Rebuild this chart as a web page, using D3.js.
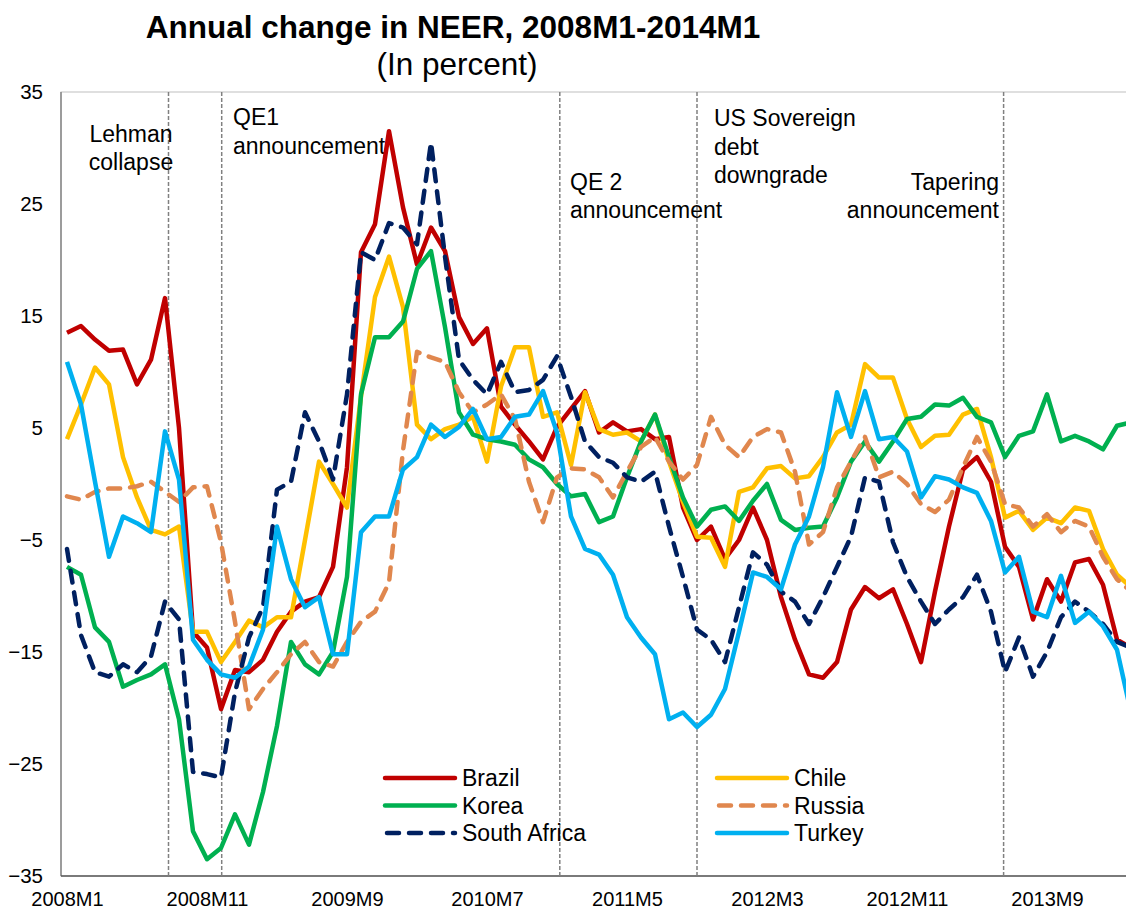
<!DOCTYPE html>
<html>
<head>
<meta charset="utf-8">
<script src="https://cdn.jsdelivr.net/npm/d3@7"></script>
<style>
  body { margin: 0; background: #fff; }
  svg { display: block; font-family: "Liberation Sans", Arial, sans-serif; }
</style>
</head>
<body>
<svg id="chart" width="1126" height="912"></svg>
<script>
// category ticks: every 10th month index, labels as printed on the chart
const tickIndex = [0, 10, 20, 30, 40, 50, 60, 70];
const tickLabels = ["2008M1", "2008M11", "2009M9", "2010M7", "2011M5", "2012M3", "2012M11", "2013M9"];
const yTicks = [-35, -25, -15, -5, 5, 15, 25, 35];

// annual change in NEER, percent, one value per month
const brazil = [13.5, 14.1, 12.9, 11.9, 12.0, 8.9, 11.1, 16.6, 5.0, -13.2,
  -14.6, -20.1, -16.6, -16.8, -15.7, -13.2, -11.4, -10.5, -10.1, -7.4,
  1.5, 20.7, 23.2, 31.5, 24.7, 19.6, 22.9, 20.8, 14.9, 12.5,
  13.9, 6.9, 5.3, 3.8, 2.2, 5.1, 6.7, 8.3, 4.6, 5.5,
  4.7, 4.9, 4.0, 4.2, -2.1, -5.0, -3.8, -6.7, -5.0, -2.1,
  -5.0, -10.1, -13.9, -17.0, -17.3, -15.9, -11.2, -9.2, -10.2, -9.4,
  -12.5, -15.9, -9.6, -3.8, 1.3, 2.4, 0.2, -5.6, -7.4, -12.1,
  -8.5, -10.5, -7.0, -6.7, -9.0, -13.9, -14.6];
const chile = [4.0, 7.1, 10.4, 8.9, 2.4, -1.2, -4.1, -4.5, -3.8, -13.2,
  -13.2, -15.9, -14.1, -12.2, -12.8, -11.9, -11.9, -5.0, 2.0, 0.0,
  -2.1, 7.8, 16.7, 20.3, 15.8, 5.3, 4.0, 4.9, 5.3, 6.0,
  2.0, 8.7, 12.2, 12.2, 6.0, 6.4, 1.7, 8.2, 4.9, 4.4,
  4.6, 3.8, 6.2, 2.0, -1.6, -4.7, -4.8, -7.4, -0.7, -0.3,
  1.4, 1.6, 0.5, 0.7, 2.4, 4.6, 5.3, 10.7, 9.5, 9.5,
  5.8, 3.3, 4.3, 4.4, 6.2, 6.7, 2.4, -3.0, -2.4, -4.1,
  -3.0, -3.5, -2.1, -2.4, -5.8, -8.1, -9.2];
const korea = [-7.4, -8.1, -12.8, -14.1, -18.1, -17.5, -17.0, -16.1, -21.0, -31.0,
  -33.5, -32.5, -29.5, -32.2, -27.5, -21.6, -14.1, -16.1, -17.0, -15.0,
  -8.3, 8.0, 13.1, 13.1, 14.5, 19.2, 20.8, 14.0, 6.4, 4.4,
  4.0, 3.8, 3.5, 2.2, 1.5, 0.0, -1.1, -0.9, -3.4, -2.9,
  0.6, 3.8, 6.2, 2.4, -1.2, -3.8, -2.3, -2.0, -3.3, -1.5,
  0.0, -3.2, -4.1, -3.9, -3.8, -1.2, 2.0, 3.8, 2.0, 3.8,
  5.8, 6.0, 7.1, 7.0, 7.7, 6.0, 5.5, 2.4, 4.3, 4.7,
  8.0, 3.8, 4.3, 3.8, 3.1, 5.2, 5.5];
const russia = [-1.1, -1.4, -0.7, -0.4, -0.4, -0.2, 0.2, -0.7, -1.6, -0.3,
  -0.2, -5.2, -12.3, -20.1, -18.3, -16.8, -15.2, -14.1, -15.9, -16.3,
  -14.1, -12.3, -11.4, -8.8, 3.0, 11.8, 11.3, 10.9, 8.2, 6.4,
  7.1, 8.0, 5.8, 0.2, -3.4, 0.6, 1.4, 1.3, 0.6, -1.2,
  1.1, 3.3, 4.2, 2.0, 0.4, 1.7, 6.0, 3.5, 2.4, 4.2,
  4.9, 4.6, 1.1, -5.4, -4.3, -0.3, 2.0, 4.2, 0.6, 1.1,
  0.0, -1.8, -2.5, -1.4, 1.5, 4.2, 2.0, -1.8, -2.1, -3.8,
  -2.7, -4.3, -3.3, -3.8, -6.5, -8.5, -9.6];
const southAfrica = [-5.8, -13.5, -16.8, -17.2, -16.1, -16.8, -15.4, -10.5, -12.1, -25.7,
  -25.9, -26.2, -18.6, -13.7, -11.0, -0.5, 0.2, 6.4, 3.8, 0.4,
  8.0, 20.7, 20.0, 23.3, 22.9, 21.4, 30.5, 20.3, 11.1, 9.3,
  8.0, 10.9, 8.2, 8.4, 9.3, 11.4, 7.8, 3.8, 2.4, 1.9,
  0.6, 0.2, 1.1, -3.8, -8.3, -13.0, -13.9, -15.9, -11.0, -6.1,
  -7.2, -9.6, -10.5, -12.5, -10.1, -7.4, -4.7, 0.6, 0.2, -5.2,
  -8.3, -10.5, -12.5, -11.2, -10.1, -8.1, -11.4, -16.8, -13.7, -17.2,
  -15.0, -11.9, -10.5, -11.4, -12.5, -14.1, -14.6];
const turkey = [10.9, 7.1, 0.2, -6.5, -2.9, -3.5, -4.3, 4.7, 0.4, -13.9,
  -15.7, -17.0, -17.3, -16.3, -13.0, -3.8, -8.5, -11.0, -10.1, -15.2,
  -15.2, -4.3, -2.9, -2.9, 1.3, 2.4, 5.3, 4.2, 5.1, 6.7,
  4.0, 4.2, 6.0, 6.2, 8.3, 4.6, -2.9, -5.8, -6.3, -8.1,
  -11.9, -13.7, -15.2, -21.0, -20.4, -21.7, -20.6, -18.3, -13.2, -7.9,
  -8.3, -9.4, -5.4, -2.9, 1.5, 8.2, 4.2, 8.3, 4.0, 4.2,
  2.9, -1.2, 0.7, 0.4, -0.3, -0.8, -3.3, -7.9, -6.5, -11.4,
  -11.9, -8.2, -12.4, -11.4, -12.7, -14.8, -20.4];

// event markers (month index) and their labels
const eventAt = [7.25, 11.05, 35.2, 45.0, 66.9];
const eventText = [["Lehman", "collapse"], ["QE1", "announcement"], ["QE 2", "announcement"],
  ["US Sovereign", "debt", "downgrade"], ["Tapering", "announcement"]];

const series = [
  { name: "Brazil", values: brazil, color: "#C00000", dashed: false },
  { name: "Chile", values: chile, color: "#FFC000", dashed: false },
  { name: "Korea", values: korea, color: "#00B050", dashed: false },
  { name: "Russia", values: russia, color: "#E0874E", dashed: true },
  { name: "South Africa", values: southAfrica, color: "#002060", dashed: true },
  { name: "Turkey", values: turkey, color: "#00B0F0", dashed: false }
];

const svg = d3.select("#chart");
const plotLeft = 61, plotTop = 92, plotBottom = 876;

const x = d3.scaleLinear().domain([-0.5, 75.5]).range([60, 1124]);
const y = d3.scaleLinear().domain([-35, 35]).range([plotBottom, plotTop]);

// plot frame
svg.append("rect")
  .attr("x", plotLeft).attr("y", plotTop)
  .attr("width", 1140 - plotLeft).attr("height", plotBottom - plotTop)
  .attr("fill", "none").attr("stroke", "#bfbfbf").attr("stroke-width", 1);

// title
svg.append("text")
  .attr("x", 453).attr("y", 38)
  .attr("text-anchor", "middle")
  .attr("font-weight", "bold").attr("font-size", 31.5)
  .text("Annual change in NEER, 2008M1-2014M1");
svg.append("text")
  .attr("x", 457).attr("y", 75)
  .attr("text-anchor", "middle")
  .attr("font-size", 31.5)
  .text("(In percent)");

// axes
const yAxis = svg.append("g")
  .attr("transform", `translate(${plotLeft},0)`)
  .call(d3.axisLeft(y).tickValues(yTicks).tickSize(0).tickPadding(18));
yAxis.select(".domain").remove();
yAxis.selectAll("text").attr("font-size", 20.5).attr("fill", "#000")
  .attr("font-family", "Liberation Sans, Arial, sans-serif");

const xAxis = svg.append("g")
  .attr("transform", `translate(0,${plotBottom})`)
  .call(d3.axisBottom(x).tickValues(tickIndex).tickFormat((d, i) => tickLabels[i]).tickSize(0).tickPadding(16));
xAxis.select(".domain").remove();
xAxis.selectAll("text").attr("font-size", 20).attr("fill", "#000")
  .attr("font-family", "Liberation Sans, Arial, sans-serif");

svg.append("line")
  .attr("x1", plotLeft).attr("x2", plotLeft).attr("y1", plotTop).attr("y2", plotBottom)
  .attr("stroke", "#868686").attr("stroke-width", 1.5);
svg.append("line")
  .attr("x1", plotLeft).attr("x2", 1126).attr("y1", plotBottom).attr("y2", plotBottom)
  .attr("stroke", "#595959").attr("stroke-width", 1.5);

// event lines
svg.append("g").selectAll("line")
  .data(eventAt)
  .join("line")
  .attr("x1", d => x(d)).attr("x2", d => x(d))
  .attr("y1", plotTop).attr("y2", plotBottom)
  .attr("stroke", "#808080").attr("stroke-width", 1.5)
  .attr("stroke-dasharray", "4,2");

// event labels: [x, first baseline, anchor]
const eventPlace = [[131, 141.5, "middle"], [233, 125, "start"], [570, 189.5, "start"],
  [714, 126, "start"], [999, 189.5, "end"]];
eventText.forEach((lines, i) => {
  const p = eventPlace[i];
  const t = svg.append("text")
    .attr("x", p[0]).attr("y", p[1])
    .attr("text-anchor", p[2])
    .attr("font-size", 23);
  lines.forEach((s, j) => {
    t.append("tspan").attr("x", p[0]).attr("dy", j === 0 ? 0 : 28.5).text(s);
  });
});

// series lines
const line = d3.line()
  .x((d, i) => x(i))
  .y(d => y(d));

svg.append("g").selectAll("path")
  .data(series)
  .join("path")
  .attr("d", d => line(d.values))
  .attr("fill", "none")
  .attr("stroke", d => d.color)
  .attr("stroke-width", 4.5)
  .attr("stroke-linejoin", "round")
  .attr("stroke-linecap", d => d.dashed ? "round" : "butt")
  .attr("stroke-dasharray", d => d.dashed ? "12,10" : null);

// legend: two columns, filled row by row
const legend = svg.append("g");
series.forEach((s, i) => {
  const col = i % 2, row = Math.floor(i / 2);
  const lx = col === 0 ? 385 : 717;
  const ly = 778 + row * 27.5;
  legend.append("line")
    .attr("x1", lx + (s.dashed ? 2 : 0)).attr("x2", lx + 70)
    .attr("y1", ly).attr("y2", ly)
    .attr("stroke", s.color).attr("stroke-width", 4.5)
    .attr("stroke-linecap", "round")
    .attr("stroke-dasharray", s.dashed ? "12,10" : null);
  legend.append("text")
    .attr("x", lx + 77).attr("y", ly + 8)
    .attr("font-size", 23)
    .text(s.name);
});
</script>
</body>
</html>
